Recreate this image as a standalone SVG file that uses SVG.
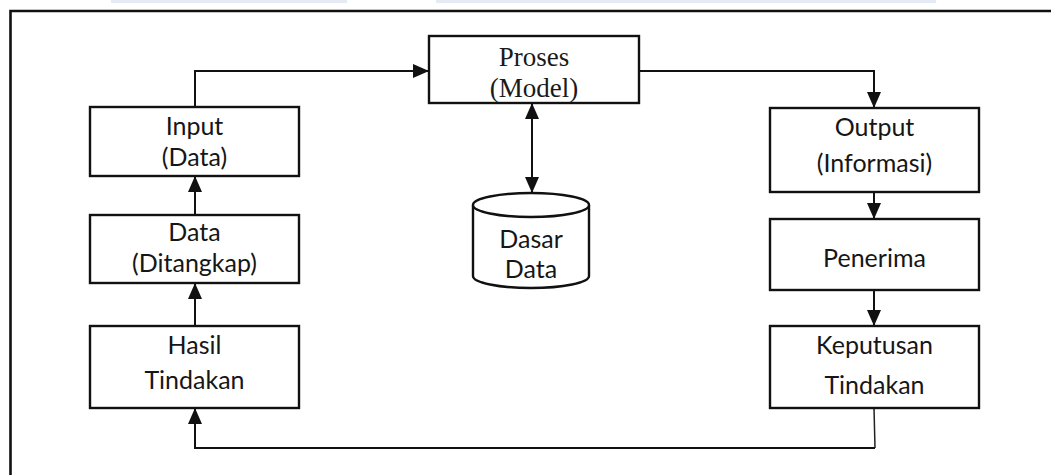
<svg xmlns="http://www.w3.org/2000/svg" width="1051" height="475" viewBox="0 0 1051 475">
  <defs>
    <style>
      .box { fill: #ffffff; stroke: #111111; stroke-width: 2.4; }
      .wire { fill: none; stroke: #111111; stroke-width: 2; }
      .thin { fill: none; stroke: #222222; stroke-width: 1.5; }
      .sans { font-family: "Lato", "Liberation Sans", sans-serif; font-size: 25px; fill: #161616; text-anchor: middle; }
      .serif { font-family: "Liberation Serif", "DejaVu Serif", serif; font-size: 27px; fill: #1a1a1a; text-anchor: middle; }
      .tab { fill: #e6eaf4; }
    </style>
    <marker id="head" viewBox="0 0 16 14" refX="16" refY="7" markerWidth="16" markerHeight="14" markerUnits="userSpaceOnUse" orient="auto-start-reverse">
      <path d="M0,0 L16,7 L0,14 Z" fill="#111111"/>
    </marker>
  </defs>

  <rect width="1051" height="475" fill="#ffffff"/>

  <!-- strips along the top edge -->
  <rect class="tab" x="111" y="0" width="236" height="3"/>
  <rect class="tab" x="436" y="0" width="500" height="3"/>

  <!-- frame: left and top edges -->
  <path d="M10.5,475 V11 H1051" fill="none" stroke="#111111" stroke-width="2.6"/>

  <g id="connectors">
    <path class="wire" d="M195,107 V71 H429" marker-end="url(#head)"/>
    <path class="wire" d="M639,71 H874 V108" marker-end="url(#head)"/>
    <path class="wire" d="M532,103 V193" marker-start="url(#head)" marker-end="url(#head)"/>
    <path class="wire" d="M195,215 V176" marker-end="url(#head)"/>
    <path class="wire" d="M195,326 V283" marker-end="url(#head)"/>
    <path class="wire" d="M874,192 V219" marker-end="url(#head)"/>
    <path class="wire" d="M874,290 V326" marker-end="url(#head)"/>
    <path class="thin" d="M874,408 L875,448"/>
    <path class="wire" d="M875,448 H195 V408" marker-end="url(#head)"/>
  </g>

  <g id="proses">
    <rect class="box" x="429" y="36" width="210" height="67"/>
    <text class="serif" x="534" y="66">Proses</text>
    <text class="serif" x="534" y="97">(Model)</text>
  </g>

  <g id="input">
    <rect class="box" x="90" y="107" width="209" height="69"/>
    <text class="sans" x="194.5" y="135">Input</text>
    <text class="sans" x="194.5" y="166">(Data)</text>
  </g>

  <g id="data-ditangkap">
    <rect class="box" x="90" y="215" width="209" height="68"/>
    <text class="sans" x="194.5" y="241">Data</text>
    <text class="sans" x="194.5" y="272">(Ditangkap)</text>
  </g>

  <g id="hasil-tindakan">
    <rect class="box" x="90" y="326" width="209" height="82"/>
    <text class="sans" x="194.5" y="354">Hasil</text>
    <text class="sans" x="194.5" y="389">Tindakan</text>
  </g>

  <g id="dasar-data">
    <path class="box" stroke-width="1.8" d="M473,205 V276 A58,12 0 0 0 589,276 V205"/>
    <ellipse class="box" stroke-width="1.8" cx="531" cy="205" rx="58" ry="12"/>
    <text class="sans" x="531" y="248">Dasar</text>
    <text class="sans" x="531" y="278">Data</text>
  </g>

  <g id="output">
    <rect class="box" x="770" y="108" width="209" height="84"/>
    <text class="sans" x="874.5" y="136">Output</text>
    <text class="sans" x="874.5" y="172">(Informasi)</text>
  </g>

  <g id="penerima">
    <rect class="box" x="770" y="219" width="209" height="71"/>
    <text class="sans" x="874.5" y="267">Penerima</text>
  </g>

  <g id="keputusan-tindakan">
    <rect class="box" x="770" y="326" width="209" height="82"/>
    <text class="sans" x="874.5" y="354">Keputusan</text>
    <text class="sans" x="874.5" y="394">Tindakan</text>
  </g>
</svg>
